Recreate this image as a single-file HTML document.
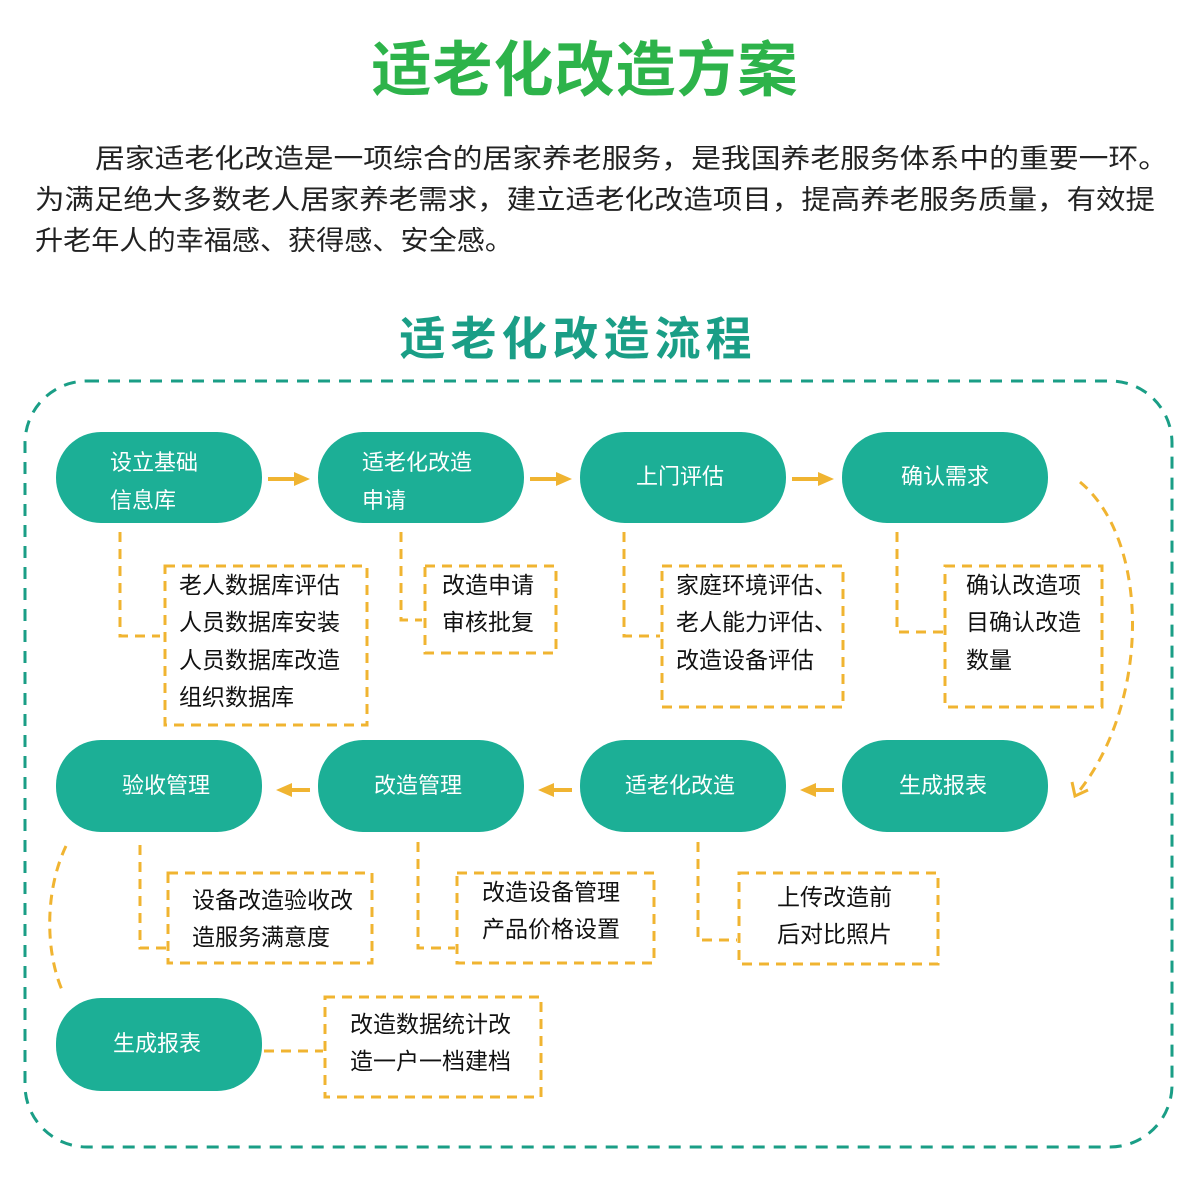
<!DOCTYPE html>
<html><head><meta charset="utf-8"><style>
html,body{margin:0;padding:0;background:#fff;}
svg{display:block;}
text{font-family:"Liberation Sans","Noto Sans CJK SC",sans-serif;}
.n{fill:#fff;font-size:22px;}
.b{fill:#111;font-size:23px;}
.o{fill:none;stroke:#f0b431;stroke-width:3;stroke-dasharray:10 7;}
</style></head><body>
<svg width="1200" height="1185" viewBox="0 0 1200 1185" xmlns="http://www.w3.org/2000/svg">
<rect width="1200" height="1185" fill="#fff"/>
<text x="585" y="91" text-anchor="middle" font-size="60" font-weight="bold" fill="#2db34a" letter-spacing="1">适老化改造方案</text>
<text x="95" y="168" font-size="27" fill="#222" textLength="1073" lengthAdjust="spacingAndGlyphs">居家适老化改造是一项综合的居家养老服务，是我国养老服务体系中的重要一环。</text>
<text x="35" y="209" font-size="27" fill="#222" textLength="1120" lengthAdjust="spacingAndGlyphs">为满足绝大多数老人居家养老需求，建立适老化改造项目，提高养老服务质量，有效提</text>
<text x="35" y="250" font-size="27" fill="#222" textLength="478" lengthAdjust="spacingAndGlyphs">升老年人的幸福感、获得感、安全感。</text>
<text x="578" y="355" text-anchor="middle" font-size="46" font-weight="bold" fill="#1a9e86" letter-spacing="5">适老化改造流程</text>
<rect x="25" y="381" width="1147" height="766" rx="62" fill="none" stroke="#1a9e86" stroke-width="3" stroke-dasharray="12 9"/>
<g fill="#1caf96">
<rect x="56" y="432" width="206" height="91" rx="45"/>
<rect x="318" y="432" width="206" height="91" rx="45"/>
<rect x="580" y="432" width="206" height="91" rx="45"/>
<rect x="842" y="432" width="206" height="91" rx="45"/>
<rect x="56" y="740" width="206" height="92" rx="45"/>
<rect x="318" y="740" width="206" height="92" rx="45"/>
<rect x="580" y="740" width="206" height="92" rx="45"/>
<rect x="842" y="740" width="206" height="92" rx="45"/>
<rect x="56" y="998" width="206" height="93" rx="45"/>
</g>
<text class="n" x="110" y="470">设立基础</text>
<text class="n" x="110" y="508">信息库</text>
<text class="n" x="362" y="470">适老化改造</text>
<text class="n" x="362" y="508">申请</text>
<text class="n" x="680" y="484" text-anchor="middle">上门评估</text>
<text class="n" x="945" y="484" text-anchor="middle">确认需求</text>
<text class="n" x="166" y="793" text-anchor="middle">验收管理</text>
<text class="n" x="418" y="793" text-anchor="middle">改造管理</text>
<text class="n" x="680" y="793" text-anchor="middle">适老化改造</text>
<text class="n" x="943" y="793" text-anchor="middle">生成报表</text>
<text class="n" x="157" y="1051" text-anchor="middle">生成报表</text>
<g fill="#f0b431" stroke="#f0b431" stroke-width="4">
<line x1="268" y1="479" x2="296" y2="479"/><path d="M294 472 L310 479 L294 486Z" stroke="none"/>
<line x1="530" y1="479" x2="558" y2="479"/><path d="M556 472 L572 479 L556 486Z" stroke="none"/>
<line x1="792" y1="479" x2="820" y2="479"/><path d="M818 472 L834 479 L818 486Z" stroke="none"/>
<line x1="310" y1="790" x2="290" y2="790"/><path d="M292 783 L276 790 L292 797Z" stroke="none"/>
<line x1="572" y1="790" x2="552" y2="790"/><path d="M554 783 L538 790 L554 797Z" stroke="none"/>
<line x1="834" y1="790" x2="814" y2="790"/><path d="M816 783 L800 790 L816 797Z" stroke="none"/>
</g>
<g class="o">
<rect x="165" y="566" width="202" height="159"/>
<rect x="425" y="566" width="131" height="87"/>
<rect x="662" y="566" width="181" height="141"/>
<rect x="945" y="566" width="157" height="141"/>
<rect x="168" y="873" width="204" height="90"/>
<rect x="457" y="873" width="197" height="90"/>
<rect x="739" y="873" width="199" height="91"/>
<rect x="325" y="997" width="216" height="100"/>
<polyline points="120,532 120,636 160,636"/>
<polyline points="401,532 401,620 422,620"/>
<polyline points="624,532 624,636 660,636"/>
<polyline points="897,532 897,632 943,632"/>
<polyline points="140,845 140,948 166,948"/>
<polyline points="418,842 418,948 455,948"/>
<polyline points="698,842 698,940 737,940"/>
<polyline points="264,1051 323,1051"/>
<path d="M1080 482 C1150 540 1150 700 1080 790"/>
<path d="M66 846 C45 890 45 950 62 990"/>
</g>
<path d="M1072 782 L1075 796 L1088 790" fill="none" stroke="#f0b431" stroke-width="3"/>
<text class="b" x="179" y="593">老人数据库评估</text>
<text class="b" x="179" y="630">人员数据库安装</text>
<text class="b" x="179" y="668">人员数据库改造</text>
<text class="b" x="179" y="705">组织数据库</text>
<text class="b" x="442" y="593">改造申请</text>
<text class="b" x="442" y="630">审核批复</text>
<text class="b" x="676" y="593">家庭环境评估、</text>
<text class="b" x="676" y="630">老人能力评估、</text>
<text class="b" x="676" y="668">改造设备评估</text>
<text class="b" x="966" y="593">确认改造项</text>
<text class="b" x="966" y="630">目确认改造</text>
<text class="b" x="966" y="668">数量</text>
<text class="b" x="192" y="908">设备改造验收改</text>
<text class="b" x="192" y="945">造服务满意度</text>
<text class="b" x="482" y="900">改造设备管理</text>
<text class="b" x="482" y="937">产品价格设置</text>
<text class="b" x="777" y="905">上传改造前</text>
<text class="b" x="777" y="942">后对比照片</text>
<text class="b" x="350" y="1032">改造数据统计改</text>
<text class="b" x="350" y="1069">造一户一档建档</text>
</svg>
</body></html>
